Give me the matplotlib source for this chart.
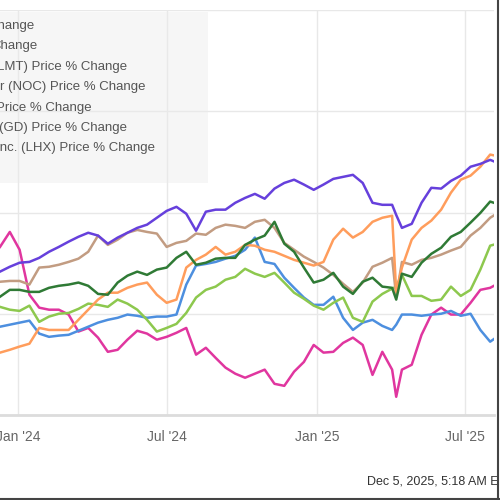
import numpy as np
import pandas as pd
import matplotlib
matplotlib.use("Agg")
import matplotlib.pyplot as plt
from matplotlib.patches import Rectangle
from matplotlib.lines import Line2D

plt.rcParams["font.family"] = ["Liberation Sans", "DejaVu Sans"]

# sample dates (12-day grid, plus the April 2025 sell-off day)
dates = pd.date_range("2023-12-10", periods=52, freq="12D").insert(41, pd.Timestamp("2025-04-08"))

# price % change
purple = [10.4, 11.6, 12.6, 12.8, 13.8, 15.3, 16.5, 17.8, 19.0, 20.0, 19.3, 17.3, 18.8, 20.0, 21.2, 22.0,
          23.7, 25.4, 26.4, 24.7, 20.5, 25.2, 25.7, 25.7, 27.4, 28.6, 29.6, 28.4, 30.9, 32.3, 33.1, 31.9,
          30.6, 31.9, 33.3, 33.8, 34.3, 32.3, 27.4, 26.9, 26.9, 24.4, 21.2, 22.2, 27.4, 31.1, 30.9, 32.8,
          34.1, 36.3, 37.0, 38.0, 37.0]
orange = [-9.6, -8.9, -8.1, -7.4, -3.5, -4.0, -4.0, -4.0, -1.5, 1.0, 3.5, 5.2, 5.2, 6.4, 7.2, 7.7,
          4.7, 2.7, 3.5, 11.4, 13.3, 14.6, 16.5, 14.6, 15.3, 17.0, 16.8, 15.8, 15.3, 14.3, 13.3, 12.6,
          11.9, 12.8, 18.3, 21.0, 18.8, 20.2, 22.7, 23.7, 24.2, 5.4, 11.4, 18.3, 21.2, 23.0, 25.7, 29.9,
          33.1, 34.1, 36.3, 39.3, 38.8]
brown = [7.9, 8.1, 8.1, 7.2, 11.4, 11.6, 12.1, 12.8, 13.6, 15.3, 19.3, 17.0, 18.3, 20.0, 20.7, 20.2,
         19.8, 16.5, 17.5, 18.0, 19.8, 19.5, 21.2, 22.0, 21.7, 21.2, 22.7, 23.2, 21.2, 17.5, 15.8, 14.1,
         12.8, 11.4, 9.6, 7.4, 5.4, 7.7, 11.6, 12.6, 13.8, 4.2, 12.8, 12.1, 13.3, 13.8, 14.6, 15.6,
         16.5, 19.3, 21.2, 23.7, 25.2]
dkgreen = [4.2, 5.9, 5.9, 5.4, 5.4, 6.4, 6.9, 7.2, 7.7, 6.9, 4.9, 4.7, 7.7, 9.4, 10.4, 9.6,
           10.9, 11.4, 13.8, 15.3, 12.1, 12.6, 13.6, 13.8, 13.8, 17.0, 18.3, 19.3, 22.7, 17.3, 15.3, 11.4,
           7.7, 8.4, 10.1, 6.7, 4.9, 7.9, 8.9, 6.7, 6.4, 3.5, 9.9, 9.1, 12.6, 14.8, 16.3, 19.0,
           20.2, 22.5, 24.9, 27.7, 26.9]
ltgreen = [1.7, 1.0, 0.7, 2.0, -2.0, -0.7, 0.0, 0.2, 1.2, 2.5, 2.2, 1.7, 3.5, 2.5, 1.0, -1.5,
           -4.4, -3.5, -2.5, 0.2, 4.0, 5.9, 6.7, 8.4, 9.1, 11.1, 9.9, 9.1, 10.1, 7.7, 5.2, 3.7,
           2.0, 1.0, 2.7, 4.0, -1.0, -2.0, 3.0, 4.9, 6.2, 6.7, 9.6, 4.4, 4.4, 3.2, 3.5, 6.7,
           4.4, 5.9, 10.9, 16.8, 17.5]
blue = [-3.2, -2.7, -2.2, -1.7, -4.9, -5.7, -5.4, -5.2, -4.2, -3.2, -2.2, -1.5, -1.0, -0.2, -0.5, -1.0,
        -0.7, -0.7, -0.2, 7.2, 11.9, 12.3, 12.8, 13.6, 14.3, 15.8, 18.8, 12.8, 12.3, 8.9, 6.4, 4.0,
        2.2, 2.2, 4.2, -1.0, -4.0, -2.2, -1.5, -3.0, -4.0, -2.7, -0.2, -0.2, -0.5, -0.2, 0.0, 0.7,
        -0.5, 0.0, -4.0, -6.9, -5.2]
magenta = [16.5, 20.2, 15.8, 4.7, 1.5, 1.0, 1.0, -0.2, -4.4, -3.5, -5.9, -9.4, -8.9, -6.4, -4.2, -4.9,
           -6.4, -5.7, -4.7, -3.5, -10.1, -8.4, -10.9, -13.3, -14.8, -15.8, -14.8, -13.8, -17.3, -17.8, -14.3, -11.9,
           -7.7, -9.6, -9.4, -7.2, -5.9, -7.7, -15.1, -9.4, -13.8, -20.5, -13.8, -12.6, -5.2, -0.2, 1.5, -0.2,
           -0.2, 2.7, 5.9, 6.4, 7.7]

series = [
    (magenta, "#e0369f"),
    (blue, "#4d8fdf"),
    (ltgreen, "#8dc84e"),
    (brown, "#c29c82"),
    (orange, "#ff9d5c"),
    (dkgreen, "#2f7a35"),
    (purple, "#6640dc"),
]

# legend rows as far as they are visible in the cropped picture
legend_labels = [
    "Change",
    "Change",
    "LMT) Price % Change",
    "r (NOC) Price % Change",
    "Price % Change",
    "(GD) Price % Change",
    "Inc. (LHX) Price % Change",
]
legend_ends = [35, 38, 127, 145, 92, 127, 155]

tick_dates = pd.to_datetime(["2024-01-01", "2024-07-01", "2025-01-01", "2025-07-01"])
tick_labels = ["Jan '24", "Jul '24", "Jan '25", "Jul '25"]

fig = plt.figure(figsize=(5, 5), dpi=100)
ax = fig.add_axes([0, 0.17, 0.988, 0.81])

for vals, color in series:
    ax.plot(dates, vals, color=color, lw=1.8, solid_joinstyle="round", zorder=3)

ax.set_xlim(pd.Timestamp("2023-12-10"), pd.Timestamp("2025-08-05 17:00"))
ax.set_ylim(-25, 75)
ax.set_yticks([-25, 0, 25, 50, 75])
ax.set_xticks(tick_dates)
ax.set_xticklabels(tick_labels)
ax.tick_params(axis="y", left=False, labelleft=False)
ax.tick_params(axis="x", length=0, pad=11, labelsize=10, labelcolor="#666666")
ax.grid(True, color="#e8e8e8", lw=1)
for side in ["top", "left", "right"]:
    ax.spines[side].set_visible(False)
ax.spines["bottom"].set_color("#dcdcdc")
ax.spines["bottom"].set_linewidth(2)

# legend box (cropped on the left)
ax.add_patch(Rectangle((-0.01, 0.573), 0.431, 0.422, transform=ax.transAxes,
                       facecolor="#ececec", alpha=0.45, edgecolor="none", zorder=4))
for i, (lab, xe) in enumerate(zip(legend_labels, legend_ends)):
    fig.text(xe / 500, 1 - (26 + i * 20.4) / 500, lab, ha="right", va="center",
             fontsize=9.5, color="#555555", zorder=5)

fig.text(367 / 500, 1 - 482 / 500, "Dec 5, 2025, 5:18 AM EST", ha="left", va="center",
         fontsize=9, color="#333333")

# screenshot frame on the right and bottom
fig.add_artist(Rectangle((498 / 500, 0), 2 / 500, 1, transform=fig.transFigure,
                         facecolor="white", edgecolor="none", zorder=9))
fig.add_artist(Line2D([497.5 / 500, 497.5 / 500], [0, 1], transform=fig.transFigure,
                      color="#444444", lw=1.5, zorder=10))
fig.add_artist(Line2D([0, 1], [1.5 / 500, 1.5 / 500], transform=fig.transFigure,
                      color="#444444", lw=1.5, zorder=10))

fig.savefig("out.png", dpi=100)
